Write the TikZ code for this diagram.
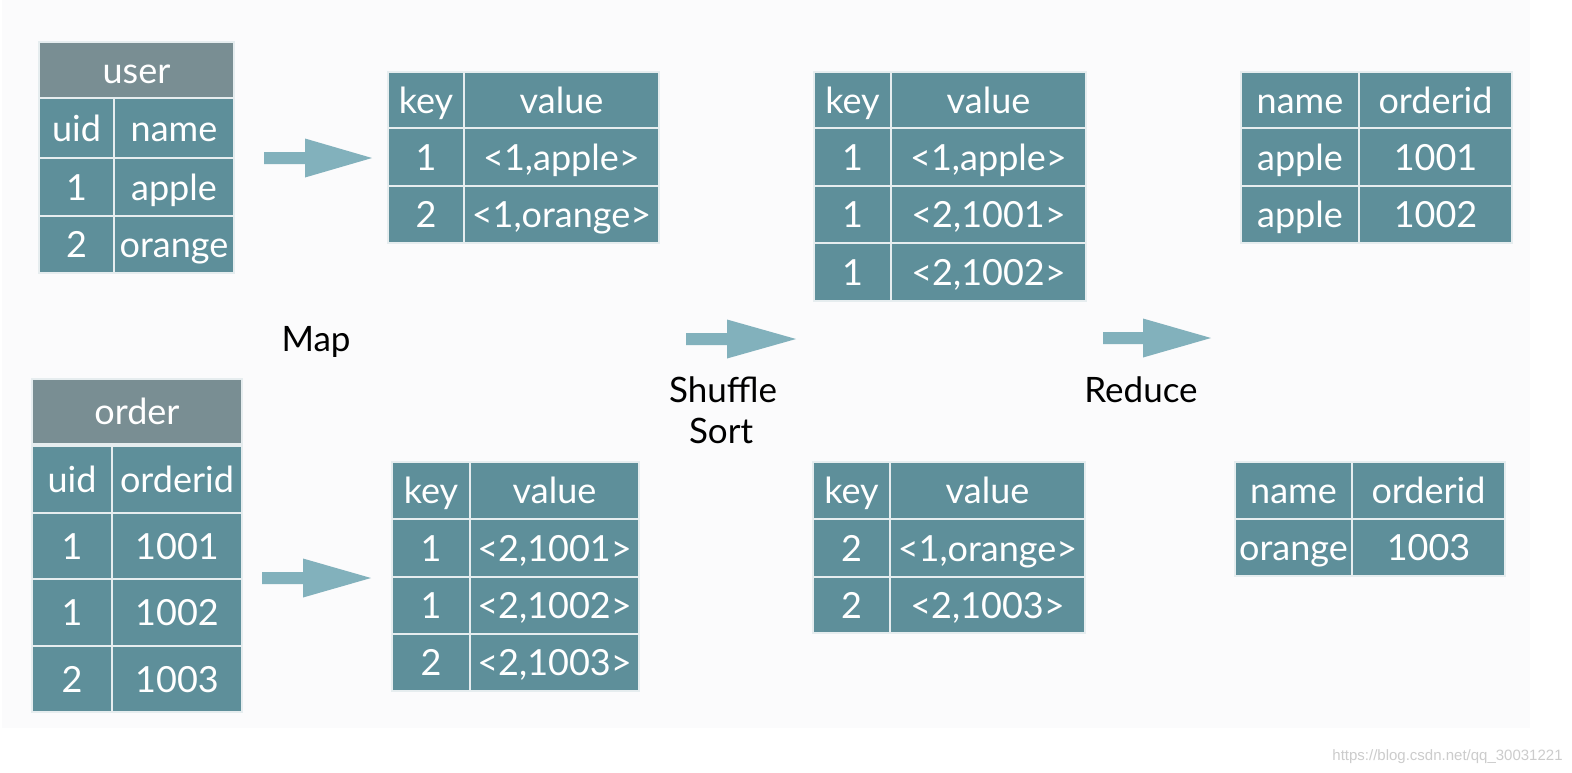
\documentclass[tikz,border=0pt]{standalone}
\usepackage{fontspec}
\setmainfont{Lato}
\newfontfamily\wmfont{Liberation Sans}
\definecolor{cellfill}{HTML}{5E8F9A}
\definecolor{headfill}{HTML}{798E93}
\definecolor{cellline}{HTML}{E6EDEF}
\definecolor{arrowfill}{HTML}{82B1BC}
\definecolor{panelbg}{HTML}{FBFBFC}
\tikzset{
  tcell/.style={draw=cellline, line width=0.8pt, fill=cellfill, text=white, inner sep=0pt,
    font=\fontsize{18}{21}\selectfont, text height=16pt, text depth=3pt},
  lbl/.style={anchor=base, text=black, font=\fontsize{17.5}{21}\selectfont},
}
% \tcellnode[style]{name}{x1}{y1}{x2}{y2}{text}
\newcommand{\tcellnode}[7][]{\node[tcell,#1, minimum width={(#5-#3)*0.5pt}, minimum height={(#6-#4)*0.5pt}] (#2) at ({(#3+#5)/2},{(#4+#6)/2}) {#7};}
% \trow{prefix}{x0}{x1}{x2}{ytop}{ybot}{A}{B}
\newcommand{\trow}[8]{\tcellnode{#1a}{#2}{#5}{#3}{#6}{#7}\tcellnode{#1b}{#3}{#5}{#4}{#6}{#8}}
% \bigarrow{x0}{x1}{xtip}{yc}
\newcommand{\bigarrow}[4]{\fill[arrowfill] (#1,#4-6) -- (#2,#4-6) -- (#2,#4-19.5) -- (#3,#4) -- (#2,#4+19.5) -- (#2,#4+6) -- (#1,#4+6) -- cycle;}
\begin{document}
\begin{tikzpicture}[x=0.5pt,y=-0.5pt]
\useasboundingbox (0,0) rectangle (1572,772);
\fill[white] (0,0) rectangle (1572,772);
\fill[panelbg] (2,0) rectangle (1530,728);

% user table
\tcellnode[fill=headfill]{uh}{39}{42}{234}{98}{user}
\trow{u1}{39}{114}{234}{98}{158}{uid}{name}
\trow{u2}{39}{114}{234}{158}{216}{1}{apple}
\trow{u3}{39}{114}{234}{216}{273}{2}{orange}

% order table
\tcellnode[fill=headfill]{oh}{32}{379}{242}{444}{order}
\trow{o1}{32}{112}{242}{446}{513}{uid}{orderid}
\trow{o2}{32}{112}{242}{513}{579}{1}{1001}
\trow{o3}{32}{112}{242}{579}{646}{1}{1002}
\trow{o4}{32}{112}{242}{646}{712}{2}{1003}

% map output 1
\trow{m1}{388}{464}{659}{72}{128}{key}{value}
\trow{m2}{388}{464}{659}{128}{186}{1}{<1,apple>}
\trow{m3}{388}{464}{659}{186}{243}{2}{<1,orange>}

% map output 2
\trow{n1}{392}{470}{639}{462}{519}{key}{value}
\trow{n2}{392}{470}{639}{519}{577}{1}{<2,1001>}
\trow{n3}{392}{470}{639}{577}{634}{1}{<2,1002>}
\trow{n4}{392}{470}{639}{634}{691}{2}{<2,1003>}

% shuffle output 1
\trow{s1}{814}{891}{1086}{72}{128}{key}{value}
\trow{s2}{814}{891}{1086}{128}{186}{1}{<1,apple>}
\trow{s3}{814}{891}{1086}{186}{243}{1}{<2,1001>}
\trow{s4}{814}{891}{1086}{243}{301}{1}{<2,1002>}

% shuffle output 2
\trow{t1}{813}{890}{1085}{462}{519}{key}{value}
\trow{t2}{813}{890}{1085}{519}{577}{2}{<1,orange>}
\trow{t3}{813}{890}{1085}{577}{633}{2}{<2,1003>}

% reduce output 1
\trow{r1}{1241}{1359}{1512}{72}{128}{name}{orderid}
\trow{r2}{1241}{1359}{1512}{128}{186}{apple}{1001}
\trow{r3}{1241}{1359}{1512}{186}{243}{apple}{1002}

% reduce output 2
\trow{q1}{1235}{1352}{1505}{462}{519}{name}{orderid}
\trow{q2}{1235}{1352}{1505}{519}{576}{orange}{1003}

% arrows
\bigarrow{264}{305}{372}{158}
\bigarrow{262}{303}{371}{578}
\bigarrow{686}{727}{796}{339}
\bigarrow{1103}{1143}{1211}{338}

% labels
\node[lbl] (map) at (316,351) {Map};
\node[lbl] (shuffle) at (723,402) {Shuffle};
\node[lbl] (sort) at (721,443) {Sort};
\node[lbl] (reduce) at (1141,402) {Reduce};

% watermark
\node[anchor=base east, text=black!20, inner sep=0pt, font=\wmfont\fontsize{7.5}{9}\selectfont] (wm) at (1563,760) {https://blog.csdn.net/qq\_30031221};
\end{tikzpicture}
\end{document}
